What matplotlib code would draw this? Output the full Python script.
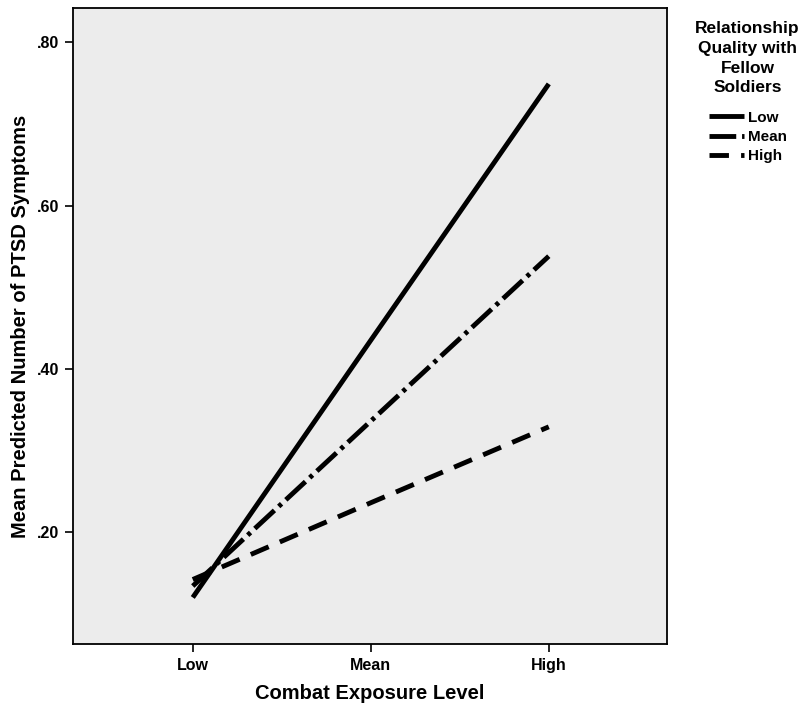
import matplotlib.pyplot as plt

# combat exposure levels (x categories)
levels = ["Low", "Mean", "High"]

# mean predicted PTSD symptoms by relationship quality
low_quality = [0.120, 0.435, 0.749]
mean_quality = [0.134, 0.336, 0.538]
high_quality = [0.142, 0.236, 0.329]

yticks = [0.20, 0.40, 0.60, 0.80]
ytick_labels = [".20", ".40", ".60", ".80"]

plt.rcParams['font.family'] = ['Liberation Sans', 'DejaVu Sans']
plt.rcParams['font.weight'] = 'bold'

fig = plt.figure(figsize=(8, 7.19), dpi=100)
ax = fig.add_axes([0.091, 0.1043, 0.7425, 0.8846])
ax.set_facecolor("#ececec")

x = list(range(len(levels)))
ax.plot(x, low_quality, color="black", lw=3.5, solid_capstyle="butt", label="Low")
ax.plot(x, mean_quality, color="black", lw=3.5, linestyle=(0, (5.5, 1.2, 0.8, 1.2)),
        dash_capstyle="butt", label="Mean")
ax.plot(x, high_quality, color="black", lw=3.5, linestyle=(0, (4, 2.5)),
        dash_capstyle="butt", label="High")

ax.set_xlim(-0.674, 2.663)
ax.set_ylim(0.063, 0.842)
ax.set_xticks(x)
ax.set_xticklabels(levels, fontsize=11.5, fontweight="bold")
ax.set_yticks(yticks)
ax.set_yticklabels(ytick_labels, fontsize=11.5, fontweight="bold")
ax.tick_params(length=6, width=1.2, color="black", pad=4)
for s in ax.spines.values():
    s.set_linewidth(1.3)

ax.set_xlabel("Combat Exposure Level", fontsize=14.5, fontweight="bold", labelpad=8)
ax.set_ylabel("Mean Predicted Number of PTSD Symptoms", fontsize=14.5, fontweight="bold", labelpad=5)

leg = fig.legend(loc="upper left", bbox_to_anchor=(0.852, 0.99), frameon=False,
                 title="Relationship\nQuality with\nFellow\nSoldiers",
                 title_fontproperties={"weight": "bold", "size": 12.5},
                 prop={"weight": "bold", "size": 11},
                 handlelength=2.3, handletextpad=0.25, labelspacing=0.35)
title = leg.get_title()
title.set_multialignment("center")
title.set_linespacing(1.4)
leg._legend_box.sep = 11

fig.savefig("out.png", dpi=100)
